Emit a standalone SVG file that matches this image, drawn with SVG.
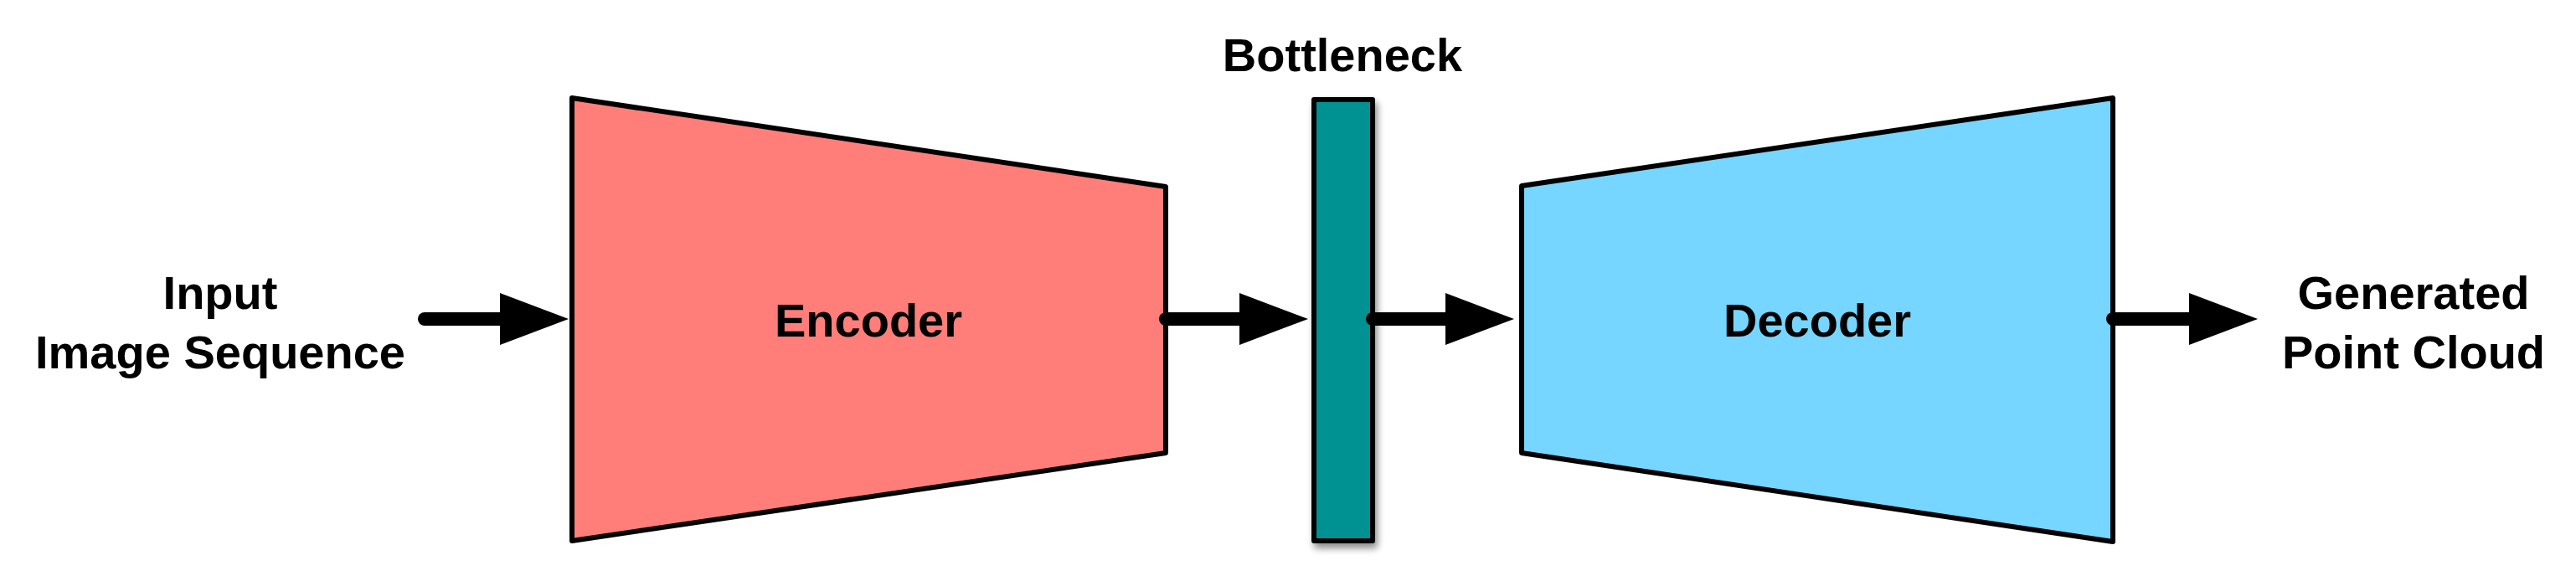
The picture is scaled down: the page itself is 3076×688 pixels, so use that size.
<svg xmlns="http://www.w3.org/2000/svg" width="3076" height="688" viewBox="0 0 3076 688">
  <style>
    .lbl { font-family: "Liberation Sans", Arial, Helvetica, sans-serif; font-weight: bold; font-size: 56px; fill: #000; text-anchor: middle; }
    .shape { stroke: #000; stroke-width: 6; stroke-linejoin: round; }
    .conn { stroke: #000; stroke-width: 16; stroke-linecap: round; fill: none; }
  </style>
  <defs>
    <marker id="head" markerUnits="userSpaceOnUse" viewBox="0 0 82 62" refX="1" refY="31" markerWidth="82" markerHeight="62" orient="auto">
      <path d="M0,0 L82,31 L0,62 z" fill="#000"/>
    </marker>
    <filter id="shadow" x="-50%" y="-10%" width="200%" height="120%">
      <feGaussianBlur in="SourceAlpha" stdDeviation="4"/>
      <feOffset dx="3" dy="6" result="b"/>
      <feComponentTransfer><feFuncA type="linear" slope="0.45"/></feComponentTransfer>
      <feMerge><feMergeNode/><feMergeNode in="SourceGraphic"/></feMerge>
    </filter>
  </defs>
  <rect width="3076" height="688" fill="#fff"/>

  <g id="input-label">
    <text class="lbl" x="263" y="369">Input</text>
    <text class="lbl" x="263" y="440">Image Sequence</text>
  </g>

  <g id="encoder">
    <polygon class="shape" points="683,117 1392,223 1392,541 683,646" fill="#FF7E79"/>
    <text class="lbl" x="1037" y="402">Encoder</text>
  </g>

  <g id="bottleneck">
    <text class="lbl" x="1603" y="85">Bottleneck</text>
    <rect class="shape" x="1569" y="119" width="70" height="527" fill="#009193" filter="url(#shadow)"/>
  </g>

  <g id="decoder">
    <polygon class="shape" points="1817,222 2523,117 2523,647 1817,541" fill="#76D6FF"/>
    <text class="lbl" x="2170" y="402">Decoder</text>
  </g>

  <g id="output-label">
    <text class="lbl" x="2882" y="369">Generated</text>
    <text class="lbl" x="2882" y="440">Point Cloud</text>
  </g>

  <g id="connectors">
    <line class="conn" x1="507" y1="381" x2="598" y2="381" marker-end="url(#head)"/>
    <line class="conn" x1="1392" y1="381" x2="1481" y2="381" marker-end="url(#head)"/>
    <line class="conn" x1="1639" y1="381" x2="1727" y2="381" marker-end="url(#head)"/>
    <line class="conn" x1="2523" y1="381" x2="2615" y2="381" marker-end="url(#head)"/>
  </g>
</svg>
